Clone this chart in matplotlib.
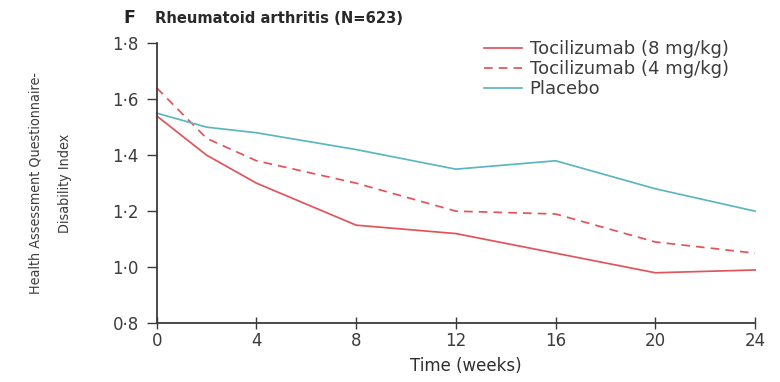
import matplotlib
matplotlib.use("Agg")
import matplotlib.pyplot as plt

weeks = [0, 2, 4, 8, 12, 16, 20, 24]
toci_8 = [1.54, 1.40, 1.30, 1.15, 1.12, 1.05, 0.98, 0.99]
toci_4 = [1.64, 1.46, 1.38, 1.30, 1.20, 1.19, 1.09, 1.05]
placebo = [1.55, 1.50, 1.48, 1.42, 1.35, 1.38, 1.28, 1.20]

x_ticks = [0, 4, 8, 12, 16, 20, 24]
y_ticks = [0.8, 1.0, 1.2, 1.4, 1.6, 1.8]
y_tick_labels = ["0·8", "1·0", "1·2", "1·4", "1·6", "1·8"]

red = "#e2545b"
teal = "#5ab7c0"
axis_col = "#3a3a3a"
text_col = "#3c3c3c"

plt.rcParams["font.family"] = ["DejaVu Sans"]

fig = plt.figure(figsize=(7.8, 3.82), dpi=100)
ax = fig.add_axes([0.201, 0.154, 0.767, 0.733])

ax.plot(weeks, toci_8, color=red, lw=1.25, label="Tocilizumab (8 mg/kg)", clip_on=False)
ax.plot(weeks, toci_4, color=red, lw=1.25, ls=(0, (5, 3.5)), label="Tocilizumab (4 mg/kg)", clip_on=False)
ax.plot(weeks, placebo, color=teal, lw=1.25, label="Placebo", clip_on=False)

ax.set_xlim(0, 24)
ax.set_ylim(0.8, 1.8)
ax.set_xticks(x_ticks)
ax.set_yticks(y_ticks)
ax.set_yticklabels(y_tick_labels)
ax.spines["top"].set_visible(False)
ax.spines["right"].set_visible(False)
for s in ("left", "bottom"):
    ax.spines[s].set_color(axis_col)
    ax.spines[s].set_linewidth(1.3)
ax.tick_params(axis="y", direction="out", length=7, width=1, colors=axis_col,
               labelsize=12, labelcolor=text_col, pad=6)
ax.tick_params(axis="x", direction="inout", length=9, width=1, colors=axis_col,
               labelsize=12, labelcolor=text_col, pad=2)

ax.set_xlabel("Time (weeks)", fontsize=12, color="#2e2e2e", labelpad=5, x=0.517)
ax.set_ylabel("Health Assessment Questionnaire-\nDisability Index", fontsize=10.3,
              color=text_col, fontstretch="condensed", linespacing=2.4, labelpad=29)

fig.text(0.158, 0.952, "F", fontsize=12.5, fontweight="bold", color="#222222",
         va="center")
fig.text(0.199, 0.952, "Rheumatoid arthritis (N=623)", fontsize=10.6, fontweight="bold",
         color="#2a2a2a", va="center")

leg = fig.legend(loc="upper left", bbox_to_anchor=(0.621, 0.895), frameon=False,
                 fontsize=13, handlelength=2.1, handletextpad=0.4, labelspacing=0.12,
                 borderaxespad=0, borderpad=0)
for t in leg.get_texts():
    t.set_color(text_col)

fig.savefig("out.png", dpi=100)
